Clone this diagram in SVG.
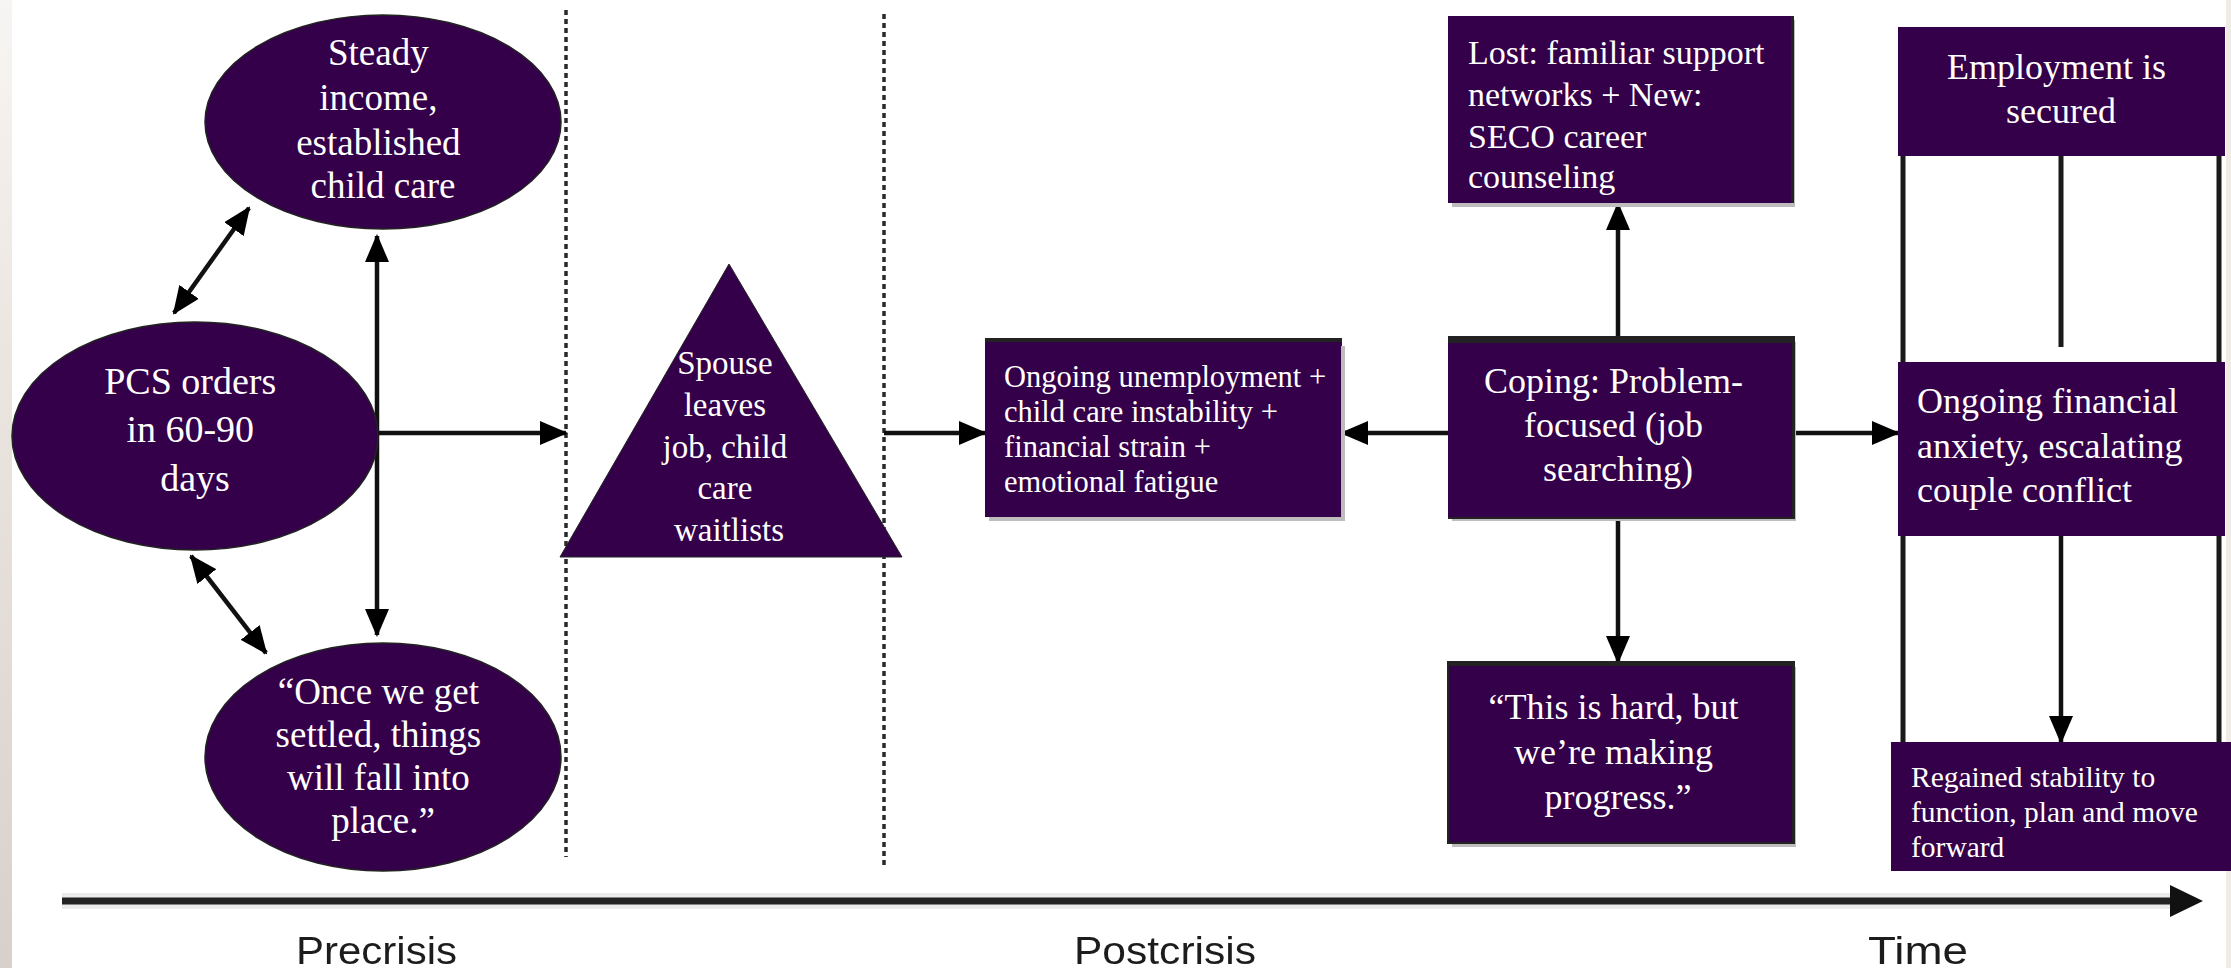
<svg xmlns="http://www.w3.org/2000/svg" width="2231" height="968" viewBox="0 0 2231 968">
  <defs>
    <style>
      .node { fill: #34004a; }
      .oval { fill: #34004a; stroke: #222; stroke-width: 1.5; }
      .edge { fill: #222; }
      .shadow { fill: #bdbdbd; }
      .t { font-family: "Liberation Serif", "Times New Roman", serif; fill: #ffffff; }
      .c { text-anchor: middle; }
      .conn { stroke: #111; stroke-width: 4.5; fill: none; }
      .plain { stroke: #1a1a1a; stroke-width: 5; fill: none; }
      .dots { stroke: #2a2a2a; stroke-width: 3.5; stroke-dasharray: 5 4; fill: none; }
      .axislabel { font-family: "Liberation Sans", Arial, sans-serif; font-size: 38px; fill: #1e1e1e; }
    </style>
    <marker id="ah" viewBox="0 0 28 24" refX="26" refY="12" markerWidth="28" markerHeight="24" markerUnits="userSpaceOnUse" orient="auto-start-reverse">
      <path d="M0,0 L28,12 L0,24 z" fill="#000"/>
    </marker>
    <linearGradient id="edgeStrip" x1="0" y1="0" x2="0" y2="1">
      <stop offset="0" stop-color="#f7f5f3"/>
      <stop offset="0.35" stop-color="#ece6e1"/>
      <stop offset="1" stop-color="#d8d1cb"/>
    </linearGradient>
    <filter id="soft" x="-5%" y="-20%" width="110%" height="140%">
      <feGaussianBlur stdDeviation="0.6"/>
    </filter>
  </defs>

  <!-- page -->
  <rect x="0" y="0" width="2231" height="968" fill="#ffffff"/>
  <rect x="0" y="0" width="12" height="968" fill="url(#edgeStrip)"/>
  <rect x="2226" y="0" width="5" height="968" fill="#f1ebe6"/>

  <!-- phase separators -->
  <g id="separators">
    <line class="dots" x1="566" y1="10" x2="566" y2="857"/>
    <line class="dots" x1="884" y1="14" x2="884" y2="866"/>
  </g>

  <!-- time axis -->
  <g id="axis">
    <line x1="62" y1="901" x2="2176" y2="901" stroke="#ebebeb" stroke-width="16"/>
    <line x1="62" y1="901" x2="2176" y2="901" stroke="#222" stroke-width="7"/>
    <polygon points="2170,885 2203,901 2170,917" fill="#111"/>
    <g filter="url(#soft)">
      <text class="axislabel" x="296" y="964" textLength="161" lengthAdjust="spacingAndGlyphs">Precrisis</text>
      <text class="axislabel" x="1074" y="964" textLength="182" lengthAdjust="spacingAndGlyphs">Postcrisis</text>
      <text class="axislabel" x="1868" y="964" textLength="100" lengthAdjust="spacingAndGlyphs">Time</text>
    </g>
  </g>

  <!-- connectors -->
  <g id="connectors">
    <line class="conn" x1="174" y1="313" x2="249" y2="208" marker-start="url(#ah)" marker-end="url(#ah)"/>
    <line class="conn" x1="191" y1="556" x2="266" y2="653" marker-start="url(#ah)" marker-end="url(#ah)"/>
    <line class="conn" x1="377" y1="236" x2="377" y2="635" marker-start="url(#ah)" marker-end="url(#ah)"/>
    <line class="conn" x1="377" y1="433" x2="566" y2="433" marker-end="url(#ah)"/>
    <line class="conn" x1="884" y1="433" x2="985" y2="433" marker-end="url(#ah)"/>
    <line class="conn" x1="1448" y1="433" x2="1342" y2="433" marker-end="url(#ah)"/>
    <line class="conn" x1="1618" y1="338" x2="1618" y2="204" marker-end="url(#ah)"/>
    <line class="conn" x1="1618" y1="517" x2="1618" y2="662" marker-end="url(#ah)"/>
    <line class="conn" x1="1793" y1="433" x2="1898" y2="433" marker-end="url(#ah)"/>
    <line class="plain" x1="1903" y1="156" x2="1903" y2="362"/>
    <line class="plain" x1="2061" y1="156" x2="2061" y2="347"/>
    <line class="plain" x1="2219" y1="156" x2="2219" y2="362"/>
    <line class="plain" x1="1903" y1="536" x2="1903" y2="742"/>
    <line class="conn" x1="2061" y1="536" x2="2061" y2="742" stroke-width="5" marker-end="url(#ah)"/>
    <line class="plain" x1="2219" y1="536" x2="2219" y2="742"/>
  </g>

  <!-- precrisis nodes -->
  <g id="steady-income">
    <ellipse class="oval" cx="383" cy="122" rx="178" ry="107"/>
    <text class="t c" font-size="37">
      <tspan x="383" y="65">Steady</tspan>
      <tspan x="383" y="110">income,</tspan>
      <tspan x="383" y="155">established</tspan>
      <tspan x="383" y="198">child care</tspan>
    </text>
  </g>

  <g id="pcs-orders">
    <ellipse class="oval" cx="195" cy="436" rx="183" ry="114"/>
    <text class="t c" font-size="38">
      <tspan x="195" y="394">PCS orders</tspan>
      <tspan x="195" y="442">in 60-90</tspan>
      <tspan x="195" y="491">days</tspan>
    </text>
  </g>

  <g id="once-settled">
    <ellipse class="oval" cx="383" cy="757" rx="178" ry="114"/>
    <text class="t c" font-size="37">
      <tspan x="383" y="704">“Once we get</tspan>
      <tspan x="383" y="747">settled, things</tspan>
      <tspan x="383" y="790">will fall into</tspan>
      <tspan x="383" y="833">place.”</tspan>
    </text>
  </g>

  <!-- crisis node -->
  <g id="spouse-leaves">
    <polygon class="node" points="729,264 902,557 560,557" stroke="#222" stroke-width="1"/>
    <text class="t c" font-size="33">
      <tspan x="729" y="374">Spouse</tspan>
      <tspan x="729" y="416">leaves</tspan>
      <tspan x="729" y="458">job, child</tspan>
      <tspan x="729" y="499">care</tspan>
      <tspan x="729" y="541">waitlists</tspan>
    </text>
  </g>

  <!-- postcrisis nodes -->
  <g id="ongoing-unemployment">
    <rect class="shadow" x="989" y="346" width="356" height="175"/>
    <rect class="edge" x="985" y="338" width="357" height="8"/>
    <rect class="node" x="985" y="342" width="356" height="175"/>
    <text class="t" font-size="30.5">
      <tspan x="1004" y="387">Ongoing unemployment +</tspan>
      <tspan x="1004" y="422">child care instability +</tspan>
      <tspan x="1004" y="457">financial strain +</tspan>
      <tspan x="1004" y="492">emotional fatigue</tspan>
    </text>
  </g>

  <g id="lost-new">
    <rect class="shadow" x="1452" y="20" width="343" height="187"/>
    <rect class="edge" x="1450" y="16" width="344" height="187"/>
    <rect class="node" x="1448" y="16" width="343" height="187"/>
    <text class="t" font-size="34">
      <tspan x="1468" y="64">Lost: familiar support</tspan>
      <tspan x="1468" y="106">networks + New:</tspan>
      <tspan x="1468" y="148">SECO career</tspan>
      <tspan x="1468" y="188">counseling</tspan>
    </text>
  </g>

  <g id="coping">
    <rect class="shadow" x="1452" y="342" width="344" height="179"/>
    <rect class="edge" x="1448" y="336" width="347" height="183"/>
    <rect class="node" x="1448" y="343" width="344" height="174"/>
    <text class="t c" font-size="36">
      <tspan x="1618" y="393">Coping: Problem-</tspan>
      <tspan x="1618" y="437">focused (job</tspan>
      <tspan x="1618" y="481">searching)</tspan>
    </text>
  </g>

  <g id="making-progress">
    <rect class="shadow" x="1452" y="667" width="344" height="180"/>
    <rect class="edge" x="1447" y="661" width="348" height="183"/>
    <rect class="node" x="1449" y="666" width="343" height="176"/>
    <text class="t c" font-size="36">
      <tspan x="1618" y="719">“This is hard, but</tspan>
      <tspan x="1618" y="764">we’re making</tspan>
      <tspan x="1618" y="809">progress.”</tspan>
    </text>
  </g>

  <g id="employment-secured">
    <rect class="node" x="1898" y="27" width="327" height="129"/>
    <text class="t c" font-size="36">
      <tspan x="2061" y="79">Employment is</tspan>
      <tspan x="2061" y="123">secured</tspan>
    </text>
  </g>

  <g id="financial-anxiety">
    <rect class="node" x="1898" y="362" width="327" height="174"/>
    <text class="t" font-size="36">
      <tspan x="1917" y="413">Ongoing financial</tspan>
      <tspan x="1917" y="458">anxiety, escalating</tspan>
      <tspan x="1917" y="502">couple conflict</tspan>
    </text>
  </g>

  <g id="regained-stability">
    <rect class="node" x="1891" y="742" width="340" height="129"/>
    <text class="t" font-size="29.5">
      <tspan x="1911" y="787">Regained stability to</tspan>
      <tspan x="1911" y="822">function, plan and move</tspan>
      <tspan x="1911" y="857">forward</tspan>
    </text>
  </g>
</svg>
